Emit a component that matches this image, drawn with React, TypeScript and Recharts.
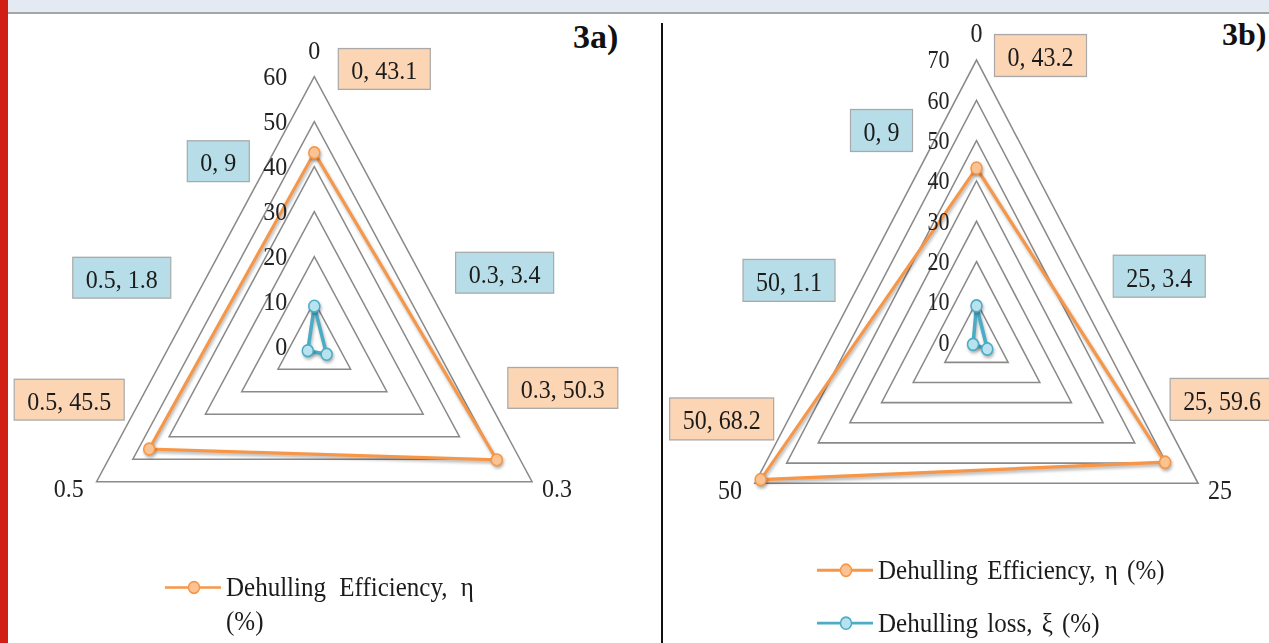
import React from 'react';
import {
  RadarChart,
  Radar,
  PolarGrid,
  PolarAngleAxis,
  PolarRadiusAxis,
  LabelList,
  Legend
} from 'recharts';

// 3a) huller setting vs dehulling
const doses = ['0', '0.3', '0.5'];
const efficiencyA = [43.1, 50.3, 45.5];
const lossA = [9, 3.4, 1.8];

// 3b)
const speeds = ['0', '25', '50'];
const efficiencyB = [43.2, 59.6, 68.2];
const lossB = [9, 3.4, 1.1];

const EFF_NAME = 'Dehulling Efficiency, η (%)';
const LOSS_NAME = 'Dehulling loss, ξ (%)';

const SERIF = '"Liberation Serif", "Times New Roman", "DejaVu Serif", serif';
const ORANGE = '#F79646';
const ORANGE_LIGHT = '#FBC393';
const BLUE = '#4BACC6';
const BLUE_LIGHT = '#B9E2EF';
const PEACH_BOX = '#FCD5B4';
const BLUE_BOX = '#B7DEE8';

// where each data-label box sits, relative to its point (unscaled px)
const effOffsetsA = [[70, -78], [66, -67], [-80, -46]];
const lossOffsetsA = [[-96, -135], [178, -76], [-186, -68]];
const effOffsetsB = [[64, -102], [57, -57], [-39, -55]];
const lossOffsetsB = [[-95, -159], [172, -66], [-184, -58]];

const charW = (ch: string) => (/[0-9]/.test(ch) ? 0.5 : 0.25);
const textWidth = (s: string, size: number) =>
  s.split('').reduce((a, c) => a + charW(c), 0) * size;

const boxLabel = (cats: string[], offsets: number[][], fill: string) => (props: any) => {
  const vb = props.viewBox || {};
  const px = typeof props.x === 'number' ? props.x : vb.x;
  const py = typeof props.y === 'number' ? props.y : vb.y;
  const i = props.index ?? 0;
  if (typeof px !== 'number' || typeof py !== 'number') return null;
  const txt = `${cats[i]}, ${props.value}`;
  const w = textWidth(txt, 24) + 26;
  const h = 38;
  const bx = px + offsets[i][0];
  const by = py + offsets[i][1];
  return (
    <g key={`lb-${i}`}>
      <rect x={bx - w / 2} y={by - h / 2} width={w} height={h} fill={fill} stroke="#A9A9A9" strokeWidth={1.2} />
      <text x={bx} y={by + 1} textAnchor="middle" dominantBaseline="central" fontSize={24} fill="#1b1b1b" fontFamily={SERIF}>
        {txt}
      </text>
    </g>
  );
};

const AngleTick = (props: any) => {
  const { x, y, payload, textAnchor } = props;
  let dx = 0;
  let dy = 0;
  if (textAnchor === 'middle') dy = -17;
  else if (textAnchor === 'start') { dx = 3; dy = 2; }
  else { dx = -6; dy = 2; }
  return (
    <text x={x + dx} y={y + dy} textAnchor={textAnchor} dominantBaseline="central" fontSize={24} fill="#222" fontFamily={SERIF}>
      {payload.value}
    </text>
  );
};

const radiusTick = (size: number) => (props: any) => {
  const { x, y, payload } = props;
  return (
    <text x={x - 27} y={y} textAnchor="end" dominantBaseline="central" fontSize={size} fill="#222" fontFamily={SERIF}>
      {payload.value}
    </text>
  );
};

const LegendIcon = ({ color, light }: { color: string; light: string }) => (
  <svg width={56} height={32} style={{ flex: 'none' }}>
    <line x1={0} y1={16} x2={56} y2={16} stroke={color} strokeWidth={2.5} />
    <circle cx={29} cy={16} r={5.5} fill={light} stroke={color} strokeWidth={1.5} />
  </svg>
);

interface PanelProps {
  left: number;
  width: number;
  k: number;
  cx: number;
  cy: number;
  radius: number;
  max: number;
  cats: string[];
  eff: number[];
  loss: number[];
  effOffsets: number[][];
  lossOffsets: number[][];
  tickSize: number;
  legendLeft: number;
  legendTop: number;
  legendTextWidth: number;
  legendWordSpacing: number;
  legendRowGap: number;
  legendCount: number;
}

const RadarPanel: React.FC<PanelProps> = (p) => {
  const data = p.cats.map((c, i) => ({ cat: c, eff: p.eff[i], loss: p.loss[i] }));
  const h = Math.ceil(643 / p.k);
  const colors = [
    { color: ORANGE, light: ORANGE_LIGHT },
    { color: BLUE, light: BLUE_LIGHT }
  ];

  const renderLegend = (lp: any) => {
    const items = (lp.payload || []).slice(0, p.legendCount);
    return (
      <div style={{ fontFamily: SERIF, fontSize: 25, color: '#1b1b1b' }}>
        {items.map((it: any, i: number) => (
          <div key={i} style={{ display: 'flex', alignItems: 'flex-start', marginBottom: p.legendRowGap }}>
            <LegendIcon color={colors[i].color} light={colors[i].light} />
            <div style={{ marginLeft: 5, width: p.legendTextWidth, lineHeight: '32px', wordSpacing: p.legendWordSpacing }}>
              {it.value}
            </div>
          </div>
        ))}
      </div>
    );
  };

  return (
    <div
      style={{
        position: 'absolute',
        left: p.left,
        top: 0,
        width: p.width,
        height: h,
        transform: `scaleY(${p.k})`,
        transformOrigin: '0 0',
        fontFamily: SERIF
      }}
    >
      <RadarChart
        width={p.width}
        height={h}
        data={data}
        cx={p.cx}
        cy={p.cy}
        outerRadius={p.radius}
        margin={{ top: 0, right: 0, bottom: 0, left: 0 }}
      >
        <PolarGrid gridType="polygon" radialLines={false} stroke="#8A8A8A" strokeWidth={1.5} />
        <PolarAngleAxis dataKey="cat" axisLine={false} tickLine={false} tickSize={8} tick={AngleTick} />
        <PolarRadiusAxis
          angle={90}
          type="number"
          domain={[0, p.max]}
          tickCount={p.max / 10 + 1}
          axisLine={false}
          tickLine={false}
          tick={radiusTick(p.tickSize)}
        />
        <Radar
          name={EFF_NAME}
          dataKey="eff"
          stroke={ORANGE}
          strokeWidth={3}
          fill="none"
          fillOpacity={0}
          dot={{ r: 5.5, fill: ORANGE_LIGHT, stroke: ORANGE, strokeWidth: 1.5, fillOpacity: 1 }}
          isAnimationActive={false}
        >
          <LabelList dataKey="eff" content={boxLabel(p.cats, p.effOffsets, PEACH_BOX)} />
        </Radar>
        <Radar
          name={LOSS_NAME}
          dataKey="loss"
          stroke={BLUE}
          strokeWidth={3.5}
          fill="none"
          fillOpacity={0}
          dot={{ r: 5.5, fill: BLUE_LIGHT, stroke: BLUE, strokeWidth: 1.5, fillOpacity: 1 }}
          isAnimationActive={false}
        >
          <LabelList dataKey="loss" content={boxLabel(p.cats, p.lossOffsets, BLUE_BOX)} />
        </Radar>
        <Legend
          verticalAlign="bottom"
          content={renderLegend}
          wrapperStyle={{ left: p.legendLeft, top: p.legendTop, bottom: 'auto', width: 420 }}
        />
      </RadarChart>
    </div>
  );
};

export default function App() {
  return (
    <div
      style={{
        position: 'absolute',
        left: 0,
        top: 0,
        width: 1269,
        height: 643,
        overflow: 'hidden',
        background: '#fff',
        fontFamily: SERIF
      }}
    >
      {/* soft shadow under the series lines, like the Office chart */}
      <style>{`
        .recharts-radar-polygon, .recharts-radar-dots {
          filter: drop-shadow(1px 2px 1.5px rgba(0,0,0,0.3));
        }
      `}</style>
      <RadarPanel
        left={0}
        width={662}
        k={1.074}
        cx={314.3}
        cy={322.8}
        radius={251.4}
        max={60}
        cats={doses}
        eff={efficiencyA}
        loss={lossA}
        effOffsets={effOffsetsA}
        lossOffsets={lossOffsetsA}
        tickSize={24}
        legendLeft={165}
        legendTop={531}
        legendTextWidth={262}
        legendWordSpacing={7}
        legendRowGap={16}
        legendCount={1}
      />
      <RadarPanel
        left={662}
        width={607}
        k={1.103}
        cx={314.5}
        cy={310.2}
        radius={255.8}
        max={70}
        cats={speeds}
        eff={efficiencyB}
        loss={lossB}
        effOffsets={effOffsetsB}
        lossOffsets={lossOffsetsB}
        tickSize={22}
        legendLeft={155}
        legendTop={501}
        legendTextWidth={330}
        legendWordSpacing={3}
        legendRowGap={16}
        legendCount={2}
      />

      <div style={{ position: 'absolute', left: 573, top: 20, fontSize: 34, lineHeight: '34px', fontWeight: 'bold', color: '#111' }}>3a)</div>
      <div style={{ position: 'absolute', left: 1222, top: 18, fontSize: 32, lineHeight: '32px', fontWeight: 'bold', color: '#111' }}>3b)</div>

      <div style={{ position: 'absolute', left: 661, top: 23, width: 2, height: 620, background: '#111' }} />
      <div style={{ position: 'absolute', left: 8, top: 0, width: 1261, height: 12, background: '#E3EAF2' }} />
      <div style={{ position: 'absolute', left: 8, top: 12, width: 1261, height: 2, background: '#A2A6AA' }} />
      <div style={{ position: 'absolute', left: 0, top: 0, width: 8, height: 643, background: '#D11F16' }} />
    </div>
  );
}
